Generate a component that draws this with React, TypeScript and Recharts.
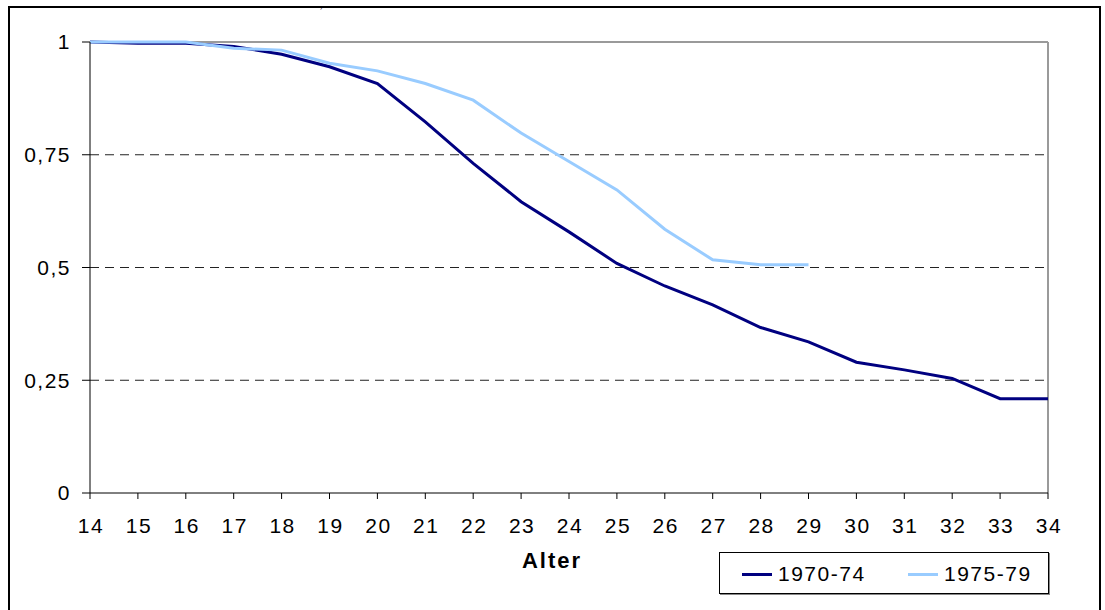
import React from 'react';
import { LineChart, Line, XAxis, YAxis, ReferenceLine } from 'recharts';

const ages = [14, 15, 16, 17, 18, 19, 20, 21, 22, 23, 24, 25, 26, 27, 28, 29, 30, 31, 32, 33, 34];
const s1970_74 = [1, 0.997, 0.997, 0.99, 0.973, 0.945, 0.908, 0.823, 0.731, 0.646, 0.579, 0.509, 0.459, 0.417, 0.367, 0.335, 0.29, 0.273, 0.254, 0.209, 0.209];
const s1975_79 = [1, 1, 1, 0.986, 0.982, 0.953, 0.936, 0.908, 0.871, 0.798, 0.735, 0.672, 0.585, 0.517, 0.506, 0.506, null, null, null, null, null];
const yTicks = [0, 0.25, 0.5, 0.75, 1];
const dashedLevels = [0.25, 0.5, 0.75];
const seriesNames = ['1970-74', '1975-79'];
const seriesKeys = ['a', 'b'];
const seriesColors = ['#000080', '#99CCFF'];
const xLabel = 'Alter';

const data = ages.map((age, i) => ({ age, a: s1970_74[i], b: s1975_79[i] }));

const FONT = "Arial, 'Liberation Sans', sans-serif";

const XTick = (props: any) => {
  const { x, y, payload } = props;
  return (
    <text x={x + 1} y={y} dy="0.71em" textAnchor="middle" fontSize={21} fontFamily={FONT} fill="#000" style={{ letterSpacing: '1.5px' }}>
      {String(payload.value)}
    </text>
  );
};

const YTick = (props: any) => {
  const { x, y, payload } = props;
  return (
    <text x={x + 1} y={y} dy="0.355em" textAnchor="end" fontSize={21} fontFamily={FONT} fill="#000" style={{ letterSpacing: '1.5px' }}>
      {String(payload.value).replace('.', ',')}
    </text>
  );
};

export default function App() {
  return (
    <div style={{ position: 'absolute', left: 0, top: 0, width: 1105, height: 610, background: '#fff', overflow: 'hidden', fontFamily: FONT }}>
      <div style={{ position: 'absolute', left: 8, top: 6, width: 1093, height: 640, border: '2px solid #000', boxSizing: 'border-box' }} />
      <div style={{ position: 'absolute', left: 320, top: 0, fontFamily: "'Liberation Serif', serif", fontStyle: 'italic', fontSize: 10, lineHeight: '10px' }}>,</div>
      <div style={{ position: 'absolute', left: 0, top: 0 }}>
        <LineChart width={1105} height={610} data={data} margin={{ top: 42, right: 57, bottom: 87, left: 0 }}>
          <XAxis
            dataKey="age"
            type="number"
            domain={[14, 34]}
            ticks={ages}
            interval={0}
            height={30}
            stroke="#000"
            tickSize={6}
            tickMargin={19}
            tick={<XTick />}
            label={{
              content: (props: any) => {
                const vb = props.viewBox || { x: 90, width: 958 };
                return (
                  <text x={vb.x + vb.width / 2 - 17} y={568} textAnchor="middle" fontSize={22} fontWeight="bold" fontFamily={FONT} fill="#000" style={{ letterSpacing: '2px' }}>
                    {xLabel}
                  </text>
                );
              },
            }}
          />
          <YAxis
            type="number"
            domain={[0, 1]}
            ticks={yTicks}
            width={90}
            stroke="#000"
            tickSize={8}
            tickMargin={12}
            tick={<YTick />}
          />
          {dashedLevels.map((v) => (
            <ReferenceLine key={v} y={v} stroke="#222" strokeDasharray="9 6" strokeWidth={1} />
          ))}
          <ReferenceLine y={1} stroke="#9a9a9a" strokeWidth={2} />
          <ReferenceLine x={34} stroke="#9a9a9a" strokeWidth={2} />
          {seriesKeys.map((k, i) => (
            <Line key={k} dataKey={k} name={seriesNames[i]} stroke={seriesColors[i]} strokeWidth={3} dot={false} isAnimationActive={false} connectNulls={false} type="linear" />
          ))}
        </LineChart>
      </div>
      <div style={{ position: 'absolute', left: 719, top: 552, width: 330, height: 42, border: '1px solid #000', boxSizing: 'border-box', boxShadow: '1px 1px 0 #888' }}>
        {seriesNames.map((n, i) => (
          <div key={n} style={{ position: 'absolute', left: 22 + i * 166, top: 9, height: 24, display: 'flex', alignItems: 'center' }}>
            <div style={{ width: 30, height: 3, background: seriesColors[i] }} />
            <span style={{ marginLeft: 6, fontSize: 21, letterSpacing: 1.5, color: '#000', lineHeight: '24px' }}>{n}</span>
          </div>
        ))}
      </div>
    </div>
  );
}
